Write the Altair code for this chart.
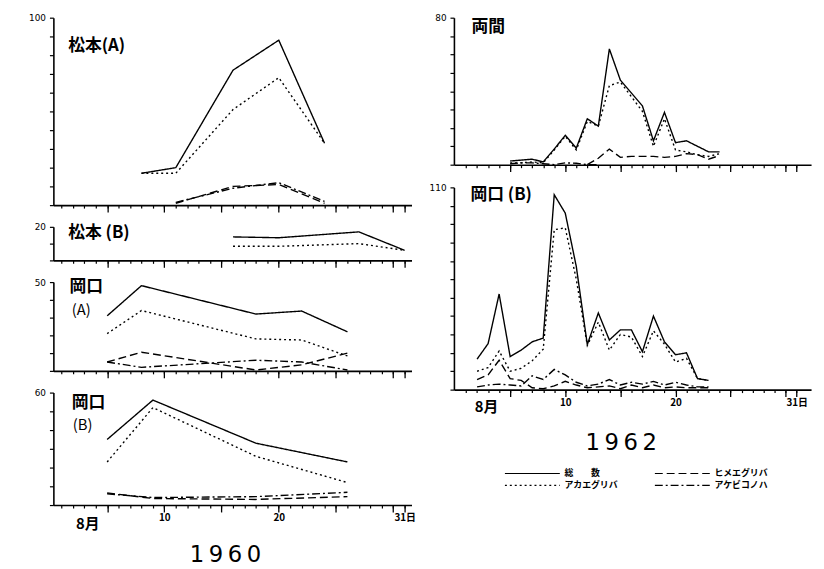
import altair as alt
import pandas as pd

# ---------------- series ----------------
series = ["総数", "アカエグリバ", "ヒメエグリバ", "アケビコノハ"]
dashes = [[1, 0], [2, 3], [8, 4], [8, 3, 2, 3]]

# ---------------- 1960 ----------------
# 松本(A)
ma_days = [8, 11, 16, 20, 24]
ma_total = [17, 20, 72, 88, 33]
ma_akaeg = [17, 17, 51, 68, 33]
ma_days2 = [11, 16, 20, 24]
ma_hime = [1, 10, 11, 1]
ma_akebi = [1.5, 9, 12, 2]

# 松本(B)
mb_days = [16, 20, 27, 31]
mb_total = [14, 13.5, 17, 6]
mb_akaeg = [8.4, 8.4, 10, 6]

# 岡口(A)
oa_days = [5, 8, 18, 22, 26]
oa_total = [31, 48, 32, 33.7, 22]
oa_akaeg = [21, 34, 18, 17.4, 8.4]
oa_hime = [5, 10.5, 0.5, 3.4, 10]
oa_akebi = [5, 2, 6, 5, 0.5]

# 岡口(B)
ob_days = [5, 9, 18, 26]
ob_total = [35, 56, 33, 23]
ob_akaeg = [23, 52, 26, 12]
ob_hime = [6.5, 3.5, 3, 4.5]
ob_akebi = [6, 4, 4.5, 6.8]

# ---------------- 1962 ----------------
# 両間
r_days = list(range(5, 25))
r_total = [2, 2.5, 3, 1.5, 8.5, 16, 9, 25, 21, 63, 46, 39, 32, 13, 28.5, 12, 13, 10, 7, 7]
r_akaeg = [1, 1, 1.5, 1, 8, 15.5, 8, 23.5, 21, 43, 45, 37, 29, 10, 25, 8, 7, 5.4, 4.5, 6]
r_hime_days = list(range(12, 25))
r_hime = [0, 3.5, 8.5, 4, 4.5, 4.5, 4.5, 4, 4.5, 6, 5.5, 3, 5]
r_akebi_days = list(range(5, 14))
r_akebi = [0.5, 1, 1, 0.5, 0, 1, 0.8, 0, 0]

# 岡口(B) 1962
o2_days = list(range(2, 24))
o2_total = [16.6, 25, 52, 18, 21.5, 26, 28, 106, 96, 67, 24.5, 41.7, 27, 32.5, 32.5,
            20.6, 40, 26, 19, 20, 6, 5]
o2_akaeg = [10, 12, 21, 10, 11.6, 15.7, 22, 87, 88, 60, 24, 36.7, 21.5, 30, 28.6,
            18, 32, 24.7, 15, 17, 6, 5]
o2_hime = [5.5, 8, 16, 6, 5, 1, 0.5, 2, 4.5, 2.5, 1, 1.5, 2, 0.5, 2.5, 1, 2.5, 1,
           1.5, 1, 1, 1]
o2_akebi = [1.5, 2.5, 3, 2.5, 2, 7.5, 5.5, 11, 8, 4, 2, 3, 5.5, 2.5, 4, 3, 4.5, 2.5,
            4, 2.5, 1.5, 1.5]

# x-axis tick days
minor_days = list(range(1, 32))
major_days = [5, 10, 15, 20, 25, 30, 31]

rows = []


def add(panel, days, s, vals):
    for d, v in zip(days, vals):
        rows.append({"panel": panel, "day": d, "series": s, "value": v})


add("ma", ma_days, "総数", ma_total)
add("ma", ma_days, "アカエグリバ", ma_akaeg)
add("ma", ma_days2, "ヒメエグリバ", ma_hime)
add("ma", ma_days2, "アケビコノハ", ma_akebi)
add("mb", mb_days, "総数", mb_total)
add("mb", mb_days, "アカエグリバ", mb_akaeg)
add("oa", oa_days, "総数", oa_total)
add("oa", oa_days, "アカエグリバ", oa_akaeg)
add("oa", oa_days, "ヒメエグリバ", oa_hime)
add("oa", oa_days, "アケビコノハ", oa_akebi)
add("ob", ob_days, "総数", ob_total)
add("ob", ob_days, "アカエグリバ", ob_akaeg)
add("ob", ob_days, "ヒメエグリバ", ob_hime)
add("ob", ob_days, "アケビコノハ", ob_akebi)
add("r", r_days, "総数", r_total)
add("r", r_days, "アカエグリバ", r_akaeg)
add("r", r_hime_days, "ヒメエグリバ", r_hime)
add("r", r_akebi_days, "アケビコノハ", r_akebi)
add("o2", o2_days, "総数", o2_total)
add("o2", o2_days, "アカエグリバ", o2_akaeg)
add("o2", o2_days, "ヒメエグリバ", o2_hime)
add("o2", o2_days, "アケビコノハ", o2_akebi)
df = pd.DataFrame(rows)

# panel labels (panel, day, value, text, bold)
panel_labels = [
    ("ma", 1.6, 85, "松本(A)", True),
    ("mb", 1.6, 16, "松本 (B)", True),
    ("oa", 1.7, 47, "岡口", True),
    ("oa", 1.9, 34, "(A)", False),
    ("ob", 1.9, 54.5, "岡口", True),
    ("ob", 2.0, 42.5, "(B)", False),
    ("r", 1.5, 75, "両間", True),
    ("o2", 1.4, 106, "岡口 (B)", True),
]
month_labels = [("ob", 3.3, -10, "8月"), ("o2", 2.85, -9.7, "8月")]

lab_df = pd.DataFrame(panel_labels, columns=["panel", "day", "value", "text", "bold"])
mon_df = pd.DataFrame(month_labels, columns=["panel", "day", "value", "text"])

FONT_JP = "Noto Sans CJK JP"

legend = alt.Legend(
    title=None, orient="none", legendX=457, legendY=456, columns=2,
    symbolType="stroke", symbolSize=3100, symbolStrokeWidth=1.2,
    symbolStrokeColor="black", labelFont=FONT_JP, labelFontSize=9,
    labelFontWeight="bold", columnPadding=36, rowPadding=0, clipHeight=12,
    labelExpr="datum.label == '総数' ? '総　　数' : datum.label",
)


def panel(pid, ymax, width, height, xdomain, bottom=False, year=None, title_pad=14,
          title_x=0):
    xscale = alt.Scale(domain=xdomain, nice=False, zero=False)
    yscale = alt.Scale(domain=[0, ymax], nice=False)
    xkw = dict(
        values=minor_days,
        tickSize=3, tickColor="black", tickWidth=1.2,
        domainColor="black", domainWidth=1.6,
        grid=False,
        labels=bottom,
        labelExpr="datum.value == 10 ? '10' : datum.value == 20 ? '20' : datum.value == 31 ? '31日' : ''",
        labelOverlap=False, labelFlush=False,
        labelFont=FONT_JP, labelFontSize=10, labelFontWeight="bold",
        labelPadding=5, labelColor="black",
        title=year if year else None,
    )
    if year:
        xkw.update(titleFont="DejaVu Sans", titleFontSize=23, titleFontWeight="normal",
                   titlePadding=title_pad, titleColor="black", titleX=title_x,
                   titleAlign="center")
    xaxis = alt.Axis(**xkw)
    xaxis_major = alt.Axis(
        orient="bottom", values=major_days, tickSize=7, tickColor="black",
        tickWidth=1.3, domain=False, grid=False, labels=False, title=None,
    )
    yaxis = alt.Axis(
        values=list(range(0, ymax + 1, 10)),
        tickSize=4, tickColor="black", tickWidth=1.2,
        domainColor="black", domainWidth=1.6, grid=False,
        labelExpr=f"datum.value == {ymax} ? '{ymax}' : ''",
        labelOverlap=False, labelFlush=False, labelFont="DejaVu Sans", labelFontSize=9,
        labelPadding=4, labelColor="black",
        title=None,
    )

    lines = alt.Chart(df).transform_filter(alt.datum.panel == pid).mark_line(
        color="black", strokeWidth=1.4
    ).encode(
        x=alt.X("day:Q", scale=xscale, axis=xaxis),
        y=alt.Y("value:Q", scale=yscale, axis=yaxis),
        strokeDash=alt.StrokeDash("series:N", scale=alt.Scale(domain=series, range=dashes),
                                  legend=legend),
        order="day:Q",
    )
    bold_labels = alt.Chart(lab_df).transform_filter(
        (alt.datum.panel == pid) & (alt.datum.bold == True)
    ).mark_text(
        align="left", baseline="middle", font=FONT_JP, fontSize=17, fontWeight="bold",
        color="black"
    ).encode(x=alt.X("day:Q", scale=xscale, axis=xaxis_major),
             y=alt.Y("value:Q", scale=yscale, axis=yaxis),
             text="text:N")
    plain_labels = alt.Chart(lab_df).transform_filter(
        (alt.datum.panel == pid) & (alt.datum.bold == False)
    ).mark_text(
        align="left", baseline="middle", font=FONT_JP, fontSize=15, fontWeight="normal",
        color="black"
    ).encode(x=alt.X("day:Q", scale=xscale, axis=None),
             y=alt.Y("value:Q", scale=yscale, axis=yaxis),
             text="text:N")
    layers = [lines, bold_labels, plain_labels]
    if bottom:
        months = alt.Chart(mon_df).transform_filter(alt.datum.panel == pid).mark_text(
            align="center", baseline="middle", font=FONT_JP, fontSize=15,
            fontWeight="bold", color="black"
        ).encode(x=alt.X("day:Q", scale=xscale, axis=None),
                 y=alt.Y("value:Q", scale=yscale, axis=yaxis),
                 text="text:N")
        layers.append(months)
    return alt.layer(*layers).resolve_axis(x="independent").properties(
        width=width, height=height)


LX = [0.3, 31.6]
RX = [-0.1, 32.3]
YEAR60 = "1\u20099\u20096\u20090"
YEAR62 = "1\u20099\u20096\u20092"

left = alt.vconcat(
    panel("ma", 100, 363, 190, LX),
    panel("mb", 20, 363, 34, LX),
    panel("oa", 50, 363, 90, LX),
    panel("ob", 60, 363, 114, LX, bottom=True, year=YEAR60, title_pad=21, title_x=174),
    spacing=22, bounds="flush",
)
right = alt.vconcat(
    panel("r", 80, 362, 149, RX),
    panel("o2", 110, 362, 205, RX, bottom=True, year=YEAR62, title_pad=25, title_x=169),
    spacing=23, bounds="flush",
)

chart = alt.hconcat(left, right, spacing=13).properties(
    padding={"left": 20, "top": 2, "right": 5, "bottom": 0},
    background="white",
).configure_view(stroke=None)

chart.save("out.html", embed_options={"renderer": "svg", "actions": False})
